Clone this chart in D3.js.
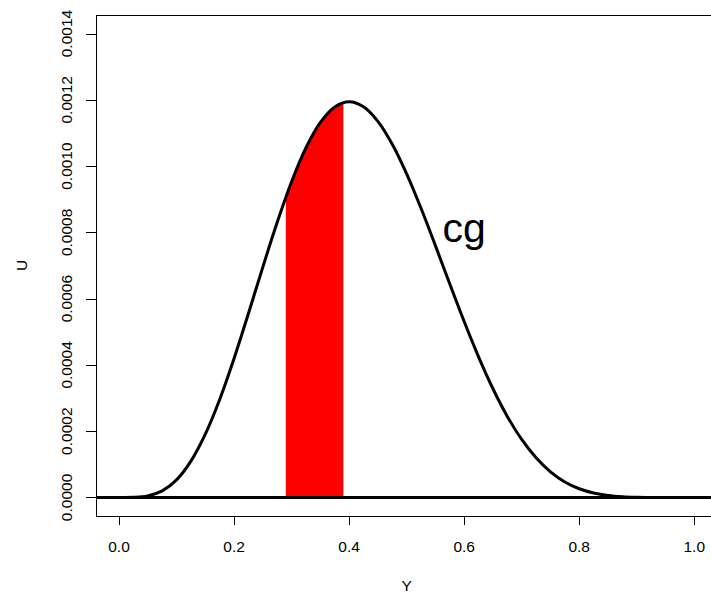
<!DOCTYPE html>
<html>
<head>
<meta charset="utf-8">
<script src="https://cdn.jsdelivr.net/npm/d3@7"></script>
<style>
  html, body { margin: 0; padding: 0; background: #fff; }
  svg { display: block; font-family: "Liberation Sans", Arial, sans-serif; }
</style>
</head>
<body>
<svg id="chart" width="711" height="599"></svg>
<script>
// ---- data ----
const yGrid = [0, 0.025, 0.05, 0.075, 0.1, 0.125, 0.15, 0.175, 0.2, 0.225,
  0.25, 0.275, 0.3, 0.325, 0.35, 0.375, 0.4, 0.425, 0.45, 0.475,
  0.5, 0.525, 0.55, 0.575, 0.6, 0.625, 0.65, 0.675, 0.7, 0.725,
  0.75, 0.775, 0.8, 0.825, 0.85, 0.875, 0.9, 0.925, 0.95, 0.975, 1.0];
const uValues = [0, 0.00000034, 0.0000046, 0.0000198, 0.0000531, 0.0001096, 0.0001909, 0.0002957, 0.0004194, 0.0005553,
  0.0006952, 0.0008305, 0.0009530, 0.0010553, 0.0011318, 0.0011787, 0.0011944, 0.0011791, 0.0011351, 0.0010659,
  0.0009766, 0.0008726, 0.0007599, 0.0006442, 0.0005308, 0.0004243, 0.0003281, 0.0002446, 0.0001750, 0.0001195,
  0.0000773, 0.0000468, 0.0000262, 0.0000133, 0.0000059, 0.0000022, 0.00000066, 0.00000013, 0.00000001, 0, 0];
const shadeRange = [0.29, 0.39];
const xTicks = [0, 0.2, 0.4, 0.6, 0.8, 1.0];
const xTickLabels = ["0.0", "0.2", "0.4", "0.6", "0.8", "1.0"];
const uTicks = [0, 0.0002, 0.0004, 0.0006, 0.0008, 0.0010, 0.0012, 0.0014];
const uTickLabels = ["0.0000", "0.0002", "0.0004", "0.0006", "0.0008", "0.0010", "0.0012", "0.0014"];
const annotation = { text: "cg", y: 0.6, u: 0.0008 };
const xTitle = "Y";
const yTitle = "U";

// ---- layout ----
const svg = d3.select("#chart");
const pLeft = 96, pTop = 15, pBottom = 516, pRight = 717.3;
const x = d3.scaleLinear().domain([-0.04, 1.04]).range([pLeft, pRight]);
const y = d3.scaleLinear().domain([-0.000056, 0.001456]).range([pBottom, pTop]);

const pts = yGrid.map((v, i) => [v, uValues[i]]);

const defs = svg.append("defs");
defs.append("clipPath").attr("id", "plotClip")
  .append("rect").attr("x", pLeft).attr("y", pTop).attr("width", pRight - pLeft).attr("height", pBottom - pTop);
defs.append("clipPath").attr("id", "shadeClip")
  .append("rect")
  .attr("x", x(shadeRange[0])).attr("y", pTop)
  .attr("width", x(shadeRange[1]) - x(shadeRange[0])).attr("height", pBottom - pTop);

const plot = svg.append("g").attr("clip-path", "url(#plotClip)");

// shaded region
plot.append("g").attr("clip-path", "url(#shadeClip)")
  .append("path")
  .datum(pts)
  .attr("fill", "#ff0000")
  .attr("d", d3.area().x(d => x(d[0])).y0(y(0)).y1(d => y(d[1])).curve(d3.curveCatmullRom));

// horizontal zero line
plot.append("line")
  .attr("x1", pLeft).attr("x2", pRight)
  .attr("y1", y(0)).attr("y2", y(0))
  .attr("stroke", "#000").attr("stroke-width", 3);

// curve
plot.append("path")
  .datum(pts)
  .attr("fill", "none").attr("stroke", "#000").attr("stroke-width", 3)
  .attr("stroke-linejoin", "round")
  .attr("d", d3.line().x(d => x(d[0])).y(d => y(d[1])).curve(d3.curveCatmullRom));

// box
svg.append("rect")
  .attr("x", pLeft + 0.5).attr("y", pTop + 0.5)
  .attr("width", pRight - pLeft).attr("height", pBottom - pTop)
  .attr("fill", "none").attr("stroke", "#000").attr("stroke-width", 1);

// x axis
const xAxis = svg.append("g");
xAxis.append("line")
  .attr("x1", x(xTicks[0])).attr("x2", x(xTicks[xTicks.length - 1]))
  .attr("y1", pBottom + 0.5).attr("y2", pBottom + 0.5)
  .attr("stroke", "#000");
xTicks.forEach((t, i) => {
  const px = Math.round(x(t)) + 0.5;
  xAxis.append("line").attr("x1", px).attr("x2", px)
    .attr("y1", pBottom).attr("y2", pBottom + 9).attr("stroke", "#000");
  xAxis.append("text").attr("x", x(t)).attr("y", 552)
    .attr("text-anchor", "middle").attr("font-size", 15.5).attr("fill", "#000")
    .text(xTickLabels[i]);
});

// y axis
const yAxis = svg.append("g");
yAxis.append("line")
  .attr("x1", pLeft + 0.5).attr("x2", pLeft + 0.5)
  .attr("y1", y(uTicks[0])).attr("y2", y(uTicks[uTicks.length - 1]))
  .attr("stroke", "#000");
uTicks.forEach((t, i) => {
  const py = Math.round(y(t)) + 0.5;
  yAxis.append("line").attr("x1", pLeft - 10).attr("x2", pLeft)
    .attr("y1", py).attr("y2", py).attr("stroke", "#000");
  yAxis.append("text")
    .attr("transform", `translate(71.5,${y(t)}) rotate(-90)`)
    .attr("text-anchor", "middle").attr("font-size", 15.5).attr("fill", "#000")
    .text(uTickLabels[i]);
});

// axis titles
svg.append("text").attr("x", (pLeft + pRight) / 2).attr("y", 591)
  .attr("text-anchor", "middle").attr("font-size", 15.5).text(xTitle);
svg.append("text")
  .attr("transform", `translate(27,${(pTop + pBottom) / 2}) rotate(-90)`)
  .attr("text-anchor", "middle").attr("font-size", 15.5).text(yTitle);

// annotation
svg.append("text")
  .attr("x", x(annotation.y)).attr("y", y(annotation.u) + 10)
  .attr("text-anchor", "middle").attr("font-size", 41).attr("fill", "#000")
  .text(annotation.text);
</script>
</body>
</html>
